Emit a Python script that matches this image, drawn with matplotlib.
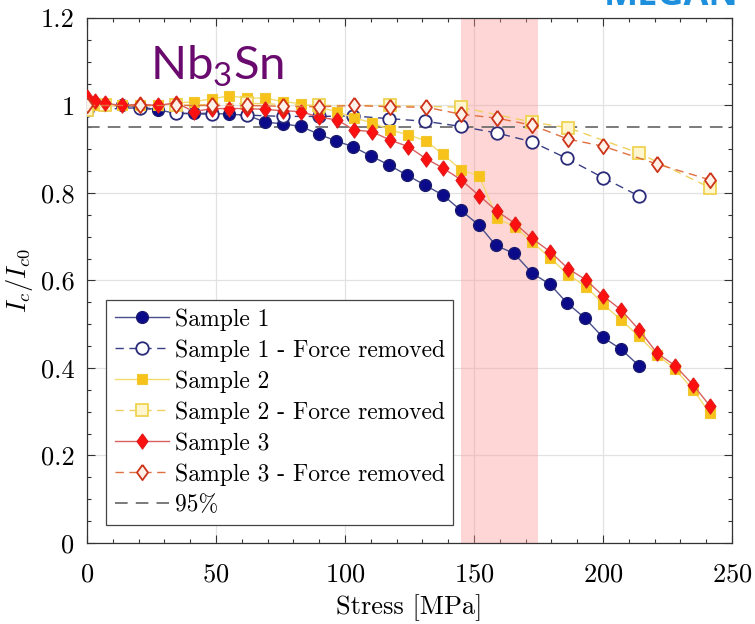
"""Nb3Sn critical current vs. stress"""
import matplotlib
matplotlib.use('Agg')
import matplotlib.pyplot as plt
from matplotlib.ticker import MultipleLocator, FuncFormatter

# Sample 1 (full load)
stress_s1 = [0, 6.5, 13.5, 20.5, 27.5, 34.5, 41.5, 48.5, 55, 62, 69, 76, 83, 90, 96.5, 103,
             110, 117, 124, 131, 138, 145, 152, 158.5, 165.5, 172.5, 179.5, 186, 193, 200, 207, 214]
ic_s1 = [0.99, 1.0, 1.0, 0.997, 0.99, 0.982, 0.982, 0.982, 0.98, 0.978, 0.962, 0.958, 0.952, 0.934,
         0.919, 0.906, 0.885, 0.864, 0.841, 0.818, 0.795, 0.76, 0.726, 0.68, 0.662, 0.617, 0.591,
         0.549, 0.514, 0.47, 0.443, 0.405]

# Samples 2 and 3 share the same stress steps
stress_s23 = [0, 3, 7, 13.5, 20.5, 27.5, 34.5, 41.5, 48.5, 55, 62, 69, 76, 83, 90, 97, 103.5, 110.5,
              117.5, 124.5, 131.5, 138, 145, 152, 159, 166, 172.5, 179.5, 186.5, 193.5, 200, 207,
              214, 221, 228, 235, 241.5]
ic_s2 = [0.99, 1.0, 1.0, 1.0, 1.0, 1.0, 1.005, 1.009, 1.015, 1.022, 1.017, 1.017, 1.009, 1.004,
         0.995, 0.986, 0.971, 0.961, 0.944, 0.933, 0.919, 0.888, 0.853, 0.839, 0.742, 0.722, 0.688,
         0.652, 0.613, 0.586, 0.546, 0.51, 0.472, 0.43, 0.397, 0.35, 0.296]
ic_s3 = [1.02, 1.01, 1.005, 1.0, 1.003, 1.0, 1.006, 0.986, 0.993, 0.993, 0.993, 0.991, 0.988, 0.986,
         0.973, 0.967, 0.944, 0.94, 0.921, 0.906, 0.878, 0.857, 0.83, 0.794, 0.758, 0.73, 0.696,
         0.666, 0.627, 0.601, 0.565, 0.533, 0.487, 0.434, 0.405, 0.361, 0.313]

# Force removed measurements
stress_fr1 = [0, 20.5, 34.5, 48.5, 62, 76, 90, 103, 117, 131, 145, 159, 172.5, 186, 200, 214]
ic_fr1 = [0.99, 0.995, 0.982, 0.98, 0.978, 0.975, 0.975, 0.976, 0.97, 0.964, 0.952, 0.937, 0.917,
          0.879, 0.835, 0.793]
stress_fr2 = [0, 7, 34.5, 62, 90, 117.5, 145, 172.5, 186.5, 214, 241.5]
ic_fr2 = [0.99, 1.0, 1.0, 1.005, 1.0, 1.0, 0.996, 0.962, 0.949, 0.891, 0.812]
stress_fr3 = [0, 20.5, 34.5, 48.5, 62, 76, 90, 103.5, 117.5, 131.5, 145, 159, 172.5, 186.5, 200,
              221, 241.5]
ic_fr3 = [1.0, 1.0, 1.0, 1.0, 1.0, 0.998, 0.997, 1.0, 0.997, 0.996, 0.98, 0.971, 0.955, 0.923,
          0.907, 0.866, 0.83]

threshold = 0.95
band = (145, 175)

# LaTeX-ish look
plt.rcParams['font.family'] = 'serif'
plt.rcParams['font.serif'] = ['cmr10']
plt.rcParams['mathtext.fontset'] = 'cm'
plt.rcParams['axes.formatter.use_mathtext'] = True
plt.rcParams['axes.unicode_minus'] = False
plt.rcParams['mathtext.rm'] = 'Lato'
plt.rcParams['mathtext.it'] = 'Lato:italic'
plt.rcParams['mathtext.bf'] = 'Lato:bold'

fig = plt.figure(figsize=(7.55, 6.24), dpi=100, facecolor='white')
ax = fig.add_axes([0.1152, 0.1298, 0.8543, 0.8414])

diamond = [(0, 1), (0.72, 0), (0, -1), (-0.72, 0), (0, 1)]

ax.axvspan(*band, facecolor='#ff9999', alpha=0.4, edgecolor='none', zorder=1)

ax.plot(stress_s1, ic_s1, '-', color='#4a4f8c', lw=1.0, marker='o', ms=8.5,
        mfc='#0a0a8a', mec='#1a1a70', mew=1.0, label='Sample 1', zorder=3)
ax.plot(stress_fr1, ic_fr1, '--', color='#3a3f85', lw=1.0, dashes=(6, 4), marker='o', ms=9,
        mfc='white', mec='#2a2a78', mew=1.3, label='Sample 1 - Force removed', zorder=3)
ax.plot(stress_s23, ic_s2, '-', color='#f2dc70', lw=1.0, marker='s', ms=7.5,
        mfc='#f7c21a', mec='#f2c830', mew=0.8, label='Sample 2', zorder=3)
ax.plot(stress_fr2, ic_fr2, '--', color='#f0d060', lw=1.0, dashes=(6, 4), marker='s', ms=8,
        mfc='#fff6d0', mec='#efd350', mew=1.3, label='Sample 2 - Force removed', zorder=3)
ax.plot(stress_s23, ic_s3, '-', color='#d86060', lw=1.0, marker=diamond, ms=11,
        mfc='#ff1010', mec='#e01a1a', mew=0.8, label='Sample 3', zorder=4)
ax.plot(stress_fr3, ic_fr3, '--', color='#e07040', lw=1.0, dashes=(6, 4), marker=diamond, ms=11,
        mfc='#fff0e8', mec='#cc3318', mew=1.3, label='Sample 3 - Force removed', zorder=4)
ax.axhline(threshold, color='#707070', lw=1.3, dashes=(7, 4.5), label='95%', zorder=2)

# Axes styling
ax.set_xlim(0, 250)
ax.set_ylim(0, 1.2)
ax.xaxis.set_major_locator(MultipleLocator(50))
ax.xaxis.set_minor_locator(MultipleLocator(10))
ax.yaxis.set_major_locator(MultipleLocator(0.2))
ax.yaxis.set_minor_locator(MultipleLocator(0.05))
ax.yaxis.set_major_formatter(FuncFormatter(lambda v, p: f'{v:g}'))
ax.tick_params(which='both', direction='in', top=True, right=True, labelsize=19,
               color='#333333', width=0.8)
ax.tick_params(which='major', length=6)
ax.tick_params(which='minor', length=3)
ax.tick_params(axis='x', which='major', pad=14)
ax.tick_params(axis='y', which='major', pad=9)
for s in ax.spines.values():
    s.set_color('#333333')
    s.set_linewidth(0.9)
ax.set_axisbelow(True)
ax.grid(which='major', color='#e2e2e2', lw=0.9)

ax.set_xlabel('Stress [MPa]', fontsize=19, labelpad=6)
ax.set_ylabel(r'$I_c/I_{c0}$', fontsize=19, labelpad=4)

leg = ax.legend(loc='lower left', bbox_to_anchor=(0.03, 0.035), fontsize=17, numpoints=1,
                handlelength=2.3, handletextpad=0.25, labelspacing=0.36, borderpad=0.35,
                fancybox=False, framealpha=1, edgecolor='#444444', borderaxespad=0)
leg.get_frame().set_linewidth(0.9)

# Material tag
ax.text(24.5, 1.058, r'Nb$_\mathrm{3}$Sn', fontsize=34, color='#6a0a6e', family='Lato',
        math_fontfamily='custom', ha='left', va='baseline', zorder=5)

# Slide header, cut off at the top edge as in the source screenshot
fig.text(0.80, 0.992, 'MEGAN', fontsize=26, fontweight='bold', color='#1e8fdc',
         family='Open Sans', ha='left', va='baseline')

fig.savefig('out.png', dpi=100, facecolor='white')
